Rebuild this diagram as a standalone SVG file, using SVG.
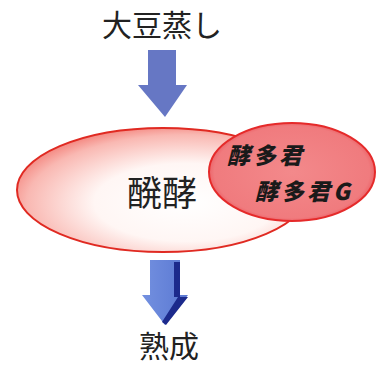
<svg xmlns="http://www.w3.org/2000/svg" width="385" height="367" viewBox="0 0 385 367">
<defs>
<radialGradient id="bigFill" cx="0.58" cy="0.6" r="0.7">
<stop offset="0" stop-color="#ffffff"/>
<stop offset="0.45" stop-color="#fff6f4"/>
<stop offset="0.78" stop-color="#f9b8b2"/>
<stop offset="1" stop-color="#f06058"/>
</radialGradient>
<radialGradient id="smallFill" cx="0.5" cy="0.5" r="0.55">
<stop offset="0" stop-color="#f3898b"/>
<stop offset="0.85" stop-color="#f07b7e"/>
<stop offset="1" stop-color="#e84850"/>
</radialGradient>
<linearGradient id="arrow2" x1="0" y1="0" x2="1" y2="0">
<stop offset="0" stop-color="#7390e0"/>
<stop offset="1" stop-color="#5a78d2"/>
</linearGradient>
</defs>
<style>
.t{font-family:"Noto Sans CJK JP","Noto Sans CJK SC",sans-serif;fill:#222}
.b{font-family:"Noto Sans CJK JP","Noto Sans CJK SC",sans-serif;font-weight:900;fill:#1a1a1a;font-style:italic}
</style>
<g id="connectors">
<polygon id="arrow-top" points="148,50 176,50 176,85 187,85 165,117 138,85 148,85" fill="#6677c4"/>
<g id="arrow-bottom">
<polygon points="150,260 180,260 180,295 188,295 165,325 142,295 150,295" fill="url(#arrow2)"/>
<polygon points="174,262 180,262 180,297 188,297 166,325 162,322 178,297 174,297" fill="#1c2a8c"/>
</g>
</g>
<g id="node-hakko">
<ellipse cx="163" cy="190" rx="146" ry="62" fill="url(#bigFill)" stroke="#e02a22" stroke-width="2"/>
<text class="t" x="162" y="206" font-size="35" text-anchor="middle">醗酵</text>
</g>
<g id="node-kouta">
<ellipse cx="292" cy="172" rx="83" ry="49" fill="url(#smallFill)" stroke="#e52a2a" stroke-width="2"/>
<text class="b" x="227" y="164" font-size="23" letter-spacing="3">酵多君</text>
<text class="b" x="255" y="200" font-size="23" letter-spacing="3">酵多君G</text>
</g>
<g id="node-daizu">
<text class="t" x="162" y="36" font-size="30" text-anchor="middle">大豆蒸し</text>
</g>
<g id="node-jukusei">
<text class="t" x="169" y="357" font-size="30" text-anchor="middle">熟成</text>
</g>
</svg>
